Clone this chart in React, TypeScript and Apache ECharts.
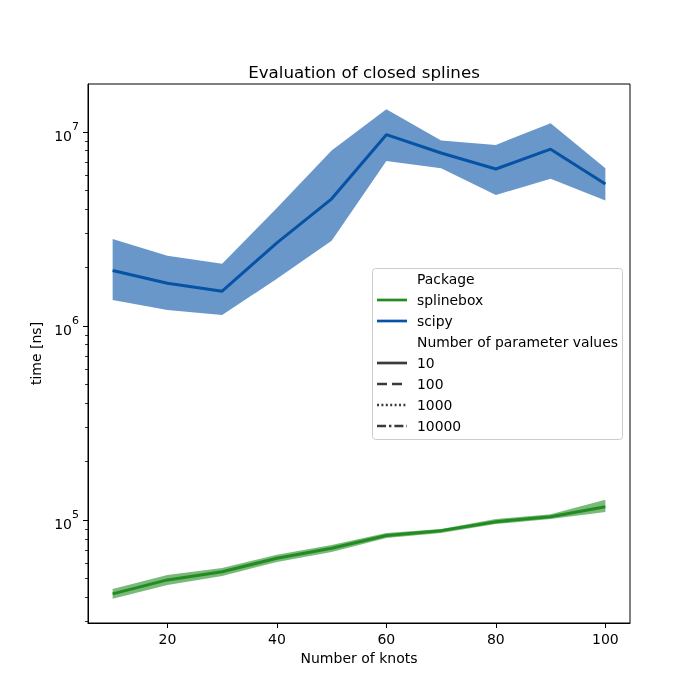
import React, { useEffect, useRef } from "react";
import * as echarts from "echarts";

// Number of knots evaluated
const knots = [10, 20, 30, 40, 50, 60, 70, 80, 90, 100];

// scipy timings [ns]: estimate and confidence band
const scipyMean = [1.93e6, 1.66e6, 1.51e6, 2.68e6, 4.52e6, 9.68e6, 7.79e6, 6.44e6, 8.15e6, 5.39e6];
const scipyUpper = [2.81e6, 2.3e6, 2.09e6, 4.06e6, 8.01e6, 1.31e7, 9.02e6, 8.57e6, 1.11e7, 6.5e6];
const scipyLower = [1.36e6, 1.21e6, 1.14e6, 1.75e6, 2.75e6, 7.09e6, 6.5e6, 4.73e6, 5.73e6, 4.43e6];

// splinebox timings [ns]: estimate and confidence band
const splineboxMean = [4.16e4, 4.91e4, 5.41e4, 6.35e4, 7.15e4, 8.32e4, 8.81e4, 9.8e4, 1.04e5, 1.17e5];
const splineboxUpper = [4.41e4, 5.2e4, 5.66e4, 6.61e4, 7.43e4, 8.57e4, 8.99e4, 1.01e5, 1.07e5, 1.27e5];
const splineboxLower = [3.92e4, 4.62e4, 5.14e4, 6.08e4, 6.84e4, 8.07e4, 8.57e4, 9.53e4, 1.01e5, 1.1e5];

// Axis ticks
const xTicks = [20, 40, 60, 80, 100];
const yMajorTicks = [1e5, 1e6, 1e7];
const yMinorTicks = [
  3e4, 4e4, 5e4, 6e4, 7e4, 8e4, 9e4,
  2e5, 3e5, 4e5, 5e5, 6e5, 7e5, 8e5, 9e5,
  2e6, 3e6, 4e6, 5e6, 6e6, 7e6, 8e6, 9e6,
];

// Legend entries
const packageNames = ["splinebox", "scipy"];
const paramValues = ["10", "100", "1000", "10000"];

const GREEN = "#228b22";
const BLUE = "#0652a5";
const FONT = "DejaVu Sans";

const X_MIN = 5.5;
const X_MAX = 104.5;
const Y_MIN = 29440;
const Y_MAX = 1.766e7;

function bandSeries(name: string, lower: number[], upper: number[], color: string) {
  return {
    type: "custom",
    name,
    silent: true,
    z: 1,
    data: knots.map((k, i) => [k, lower[i], upper[i]]),
    encode: { x: 0, y: [1, 2] },
    renderItem: (params: any, api: any) => {
      if (params.dataIndex !== 0) return null;
      const top = knots.map((k, i) => api.coord([k, upper[i]]));
      const bottom = knots.map((k, i) => api.coord([k, lower[i]])).reverse();
      return {
        type: "polygon",
        shape: { points: top.concat(bottom) },
        style: { fill: color, opacity: 0.6 },
      };
    },
  };
}

function lineSeries(name: string, values: number[], color: string) {
  return {
    type: "line",
    name,
    z: 3,
    symbol: "none",
    data: knots.map((k, i) => [k, values[i]]),
    lineStyle: { color, width: 3 },
  };
}

const legendRowY = [279, 300, 321, 342, 363, 384, 405, 426];
const dashes: (number[] | null)[] = [null, [10, 5], [2, 2.4], [9, 3, 2.4, 3]];

function legendGraphics() {
  const items: any[] = [
    {
      type: "rect",
      shape: { x: 372.5, y: 268.5, width: 250, height: 171, r: 3 },
      style: { fill: "rgba(255,255,255,0.8)", stroke: "#cccccc", lineWidth: 1 },
      z: 10,
    },
  ];
  const text = (t: string, y: number) => ({
    type: "text",
    x: 417,
    y,
    z: 11,
    style: { text: t, fontSize: 13.9, fontFamily: FONT, fill: "#000", verticalAlign: "middle", align: "left" },
  });
  const handle = (y: number, color: string, dash: number[] | null) => ({
    type: "line",
    z: 11,
    shape: { x1: 377, y1: y, x2: 407, y2: y },
    style: { stroke: color, lineWidth: 2.7, lineDash: dash || undefined },
  });
  items.push(text("Package", legendRowY[0]));
  const pkgColors = [GREEN, BLUE];
  packageNames.forEach((p, i) => {
    items.push(handle(legendRowY[1 + i], pkgColors[i], null));
    items.push(text(p, legendRowY[1 + i]));
  });
  items.push(text("Number of parameter values", legendRowY[3]));
  paramValues.forEach((p, i) => {
    items.push(handle(legendRowY[4 + i], "#3b3b3b", dashes[i]));
    items.push(text(p, legendRowY[4 + i]));
  });
  return items;
}

export default function App() {
  const ref = useRef<HTMLDivElement>(null);

  useEffect(() => {
    if (!ref.current) return;
    const chart = echarts.init(ref.current, undefined, { renderer: "svg" });
    const yAxisBase = {
      type: "log",
      logBase: 10,
      min: Y_MIN,
      max: Y_MAX,
      position: "left",
      splitLine: { show: false },
    };
    chart.setOption({
      animation: false,
      textStyle: { fontFamily: FONT },
      title: {
        text: "Evaluation of closed splines",
        left: 359,
        top: 58,
        textAlign: "center",
        textStyle: { fontSize: 16.7, fontWeight: "normal", color: "#000", fontFamily: FONT },
      },
      grid: {
        left: 88,
        right: 70,
        top: 84,
        bottom: 77,
        show: true,
        borderColor: "#000",
        borderWidth: 1,
        backgroundColor: "transparent",
      },
      xAxis: {
        type: "value",
        min: X_MIN,
        max: X_MAX,
        name: "Number of knots",
        nameLocation: "middle",
        nameGap: 28,
        nameTextStyle: { fontSize: 14, color: "#000", fontFamily: FONT },
        axisLine: { show: true, lineStyle: { color: "#000", width: 1 } },
        axisTick: { show: true, length: 5, customValues: xTicks, lineStyle: { color: "#000", width: 1 } },
        axisLabel: { customValues: xTicks, fontSize: 14, color: "#000", margin: 9, fontFamily: FONT },
        splitLine: { show: false },
      },
      yAxis: [
        {
          ...yAxisBase,
          name: "time [ns]",
          nameLocation: "middle",
          nameGap: 43,
          nameTextStyle: { fontSize: 14, color: "#000", fontFamily: FONT },
          axisLine: { show: true, lineStyle: { color: "#000", width: 1 } },
          axisTick: { show: true, length: 5, customValues: yMajorTicks, lineStyle: { color: "#000", width: 1 } },
          axisLabel: {
            customValues: yMajorTicks,
            margin: 9,
            formatter: (v: number) => `{b|10}{e|${Math.round(Math.log10(v))}}`,
            rich: {
              b: { fontSize: 14, color: "#000", fontFamily: FONT, lineHeight: 22, verticalAlign: "bottom" },
              e: { fontSize: 11, color: "#000", fontFamily: FONT, lineHeight: 11, verticalAlign: "top" },
            },
          },
        },
        {
          ...yAxisBase,
          offset: 0,
          axisLine: { show: false },
          axisTick: { show: true, length: 3, customValues: yMinorTicks, lineStyle: { color: "#000", width: 0.8 } },
          axisLabel: { show: false },
        },
      ],
      series: [
        bandSeries("splinebox band", splineboxLower, splineboxUpper, GREEN),
        bandSeries("scipy band", scipyLower, scipyUpper, BLUE),
        lineSeries("splinebox", splineboxMean, GREEN),
        lineSeries("scipy", scipyMean, BLUE),
      ],
      graphic: legendGraphics(),
    });
    return () => chart.dispose();
  }, []);

  return <div ref={ref} style={{ position: "fixed", left: 0, top: 0, width: 700, height: 700 }} />;
}
